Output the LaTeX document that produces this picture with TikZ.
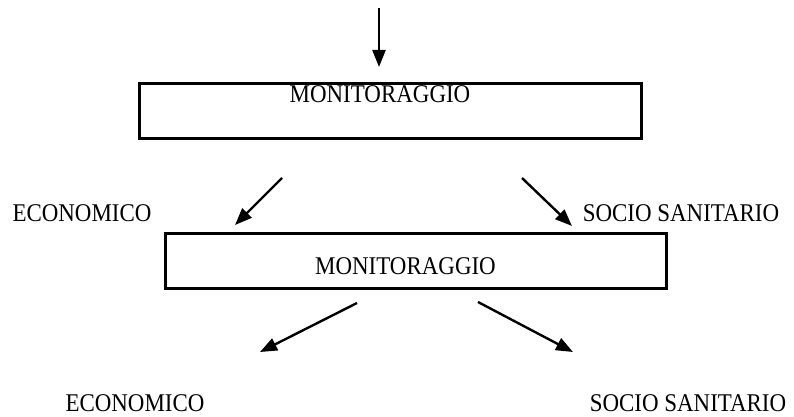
\documentclass[tikz,border=0pt]{standalone}
\usepackage{fontspec}
\setmainfont{Liberation Serif}[FakeStretch=0.9]
\usetikzlibrary{arrows.meta}

\begin{document}
\begin{tikzpicture}[x=1pt, y=-1pt,
                    box node/.style={rectangle,draw,line width=3pt,inner sep=0pt},
                    text node/.style={font=\fontsize{25.5}{28}\selectfont,inner sep=0pt},
                    arrow line/.style={line width=2.4pt,-{Triangle[length=17pt,width=13pt]}}]

  \useasboundingbox (0,0) rectangle (794,417);

  \node[box node, minimum width=502pt, minimum height=55pt] (mon1) at (390,111) {};
  \node[text node, anchor=north] (mon1 text) at ([xshift=-10pt, yshift=-3pt]mon1.north) {MONITORAGGIO};
  \node[box node, minimum width=501pt, minimum height=55pt] (mon2) at (415.5,260.5) {};
  \node[text node] (mon2 text) at ([xshift=-10pt, yshift=-5.5pt]mon2.center) {MONITORAGGIO};

  \node[text node] (eco1) at (82,213) {ECONOMICO};
  \node[text node] (soc1) at (681,213) {SOCIO SANITARIO};
  \node[text node] (eco2) at (135,403) {ECONOMICO};
  \node[text node] (soc2) at (688,403) {SOCIO SANITARIO};

  \coordinate (in top) at (379,8);
  \coordinate (in end) at (379,67);
  \coordinate (eco1 start) at (282,178);
  \coordinate (eco1 end) at (235,225);
  \coordinate (soc1 start) at (522,178);
  \coordinate (soc1 end) at (572,226);
  \coordinate (eco2 start) at (357,303);
  \coordinate (eco2 end) at (260,352);
  \coordinate (soc2 start) at (478,302);
  \coordinate (soc2 end) at (573,352);

  \draw[arrow line] (in top) -- (in end);
  \draw[arrow line] (eco1 start) -- (eco1 end);
  \draw[arrow line] (soc1 start) -- (soc1 end);
  \draw[arrow line] (eco2 start) -- (eco2 end);
  \draw[arrow line] (soc2 start) -- (soc2 end);
\end{tikzpicture}
\end{document}
